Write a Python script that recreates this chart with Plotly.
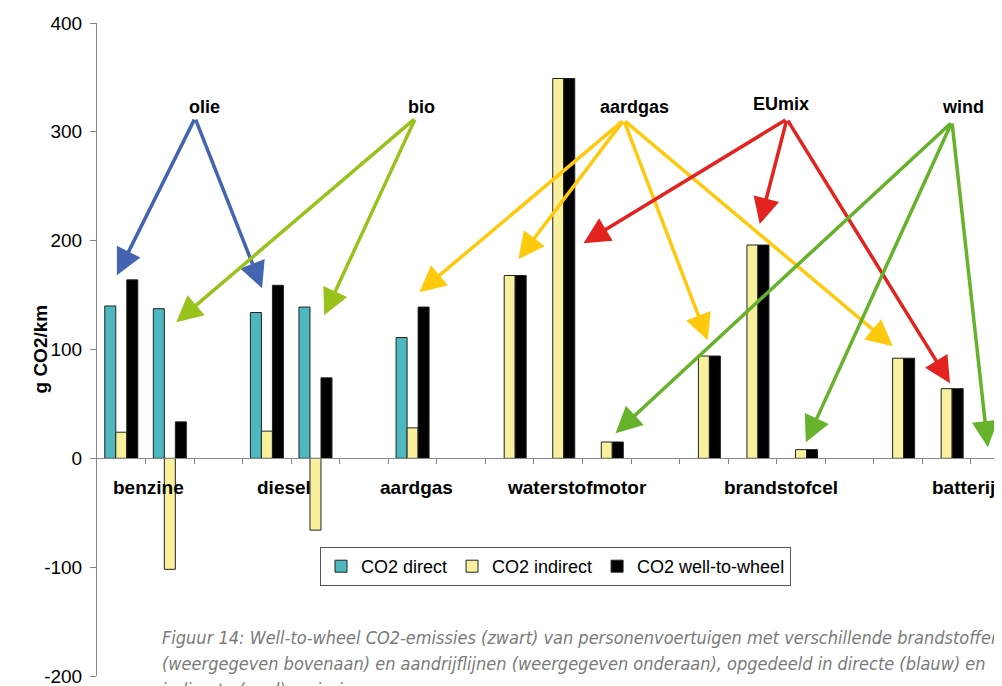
import plotly.graph_objects as go

# ---- data -------------------------------------------------------------
# 19 bar slots along the x axis (numeric positions 0..18)
slots = list(range(19))
co2_direct = [140, 137.5, None, 134, 139, None, 111, None,
              None, None, None, None, None, None, None, None, None, None, None]
co2_indirect = [24, -102, None, 25, -66, None, 28, None,
                168, 349, 15, None, 94, 196, 8, None, 92, 64, None]
co2_wtw = [164, 33.5, None, 159, 74, None, 139, None,
           168, 349, 15, None, 94, 196, 8, None, 92, 64, None]

series_names = ["CO2 direct", "CO2 indirect", "CO2 well-to-wheel"]
series_colors = ["#4DB8C0", "#F8F09C", "#000000"]

# drive-train labels below the axis
group_labels = ["benzine", "diesel", "aardgas", "waterstofmotor", "brandstofcel", "batterij"]
group_label_x = [0.57, 3.36, 6.08, 9.38, 13.58, 17.34]
group_label_y = -27

# energy-source labels (top) and their arrows
source_labels = ["olie", "bio", "aardgas", "EUmix", "wind"]
source_label_x = [1.71, 6.18, 10.57, 13.58, 17.34]
source_label_y = [323, 323, 323, 325.5, 323]
source_colors = ["#4364B0", "#99C21C", "#FFC90E", "#E3231F", "#66B22A"]
arrow_origin = [(1.52, 312.6), (6.06, 312.6), (10.35, 310.8), (13.71, 311.7), (17.11, 309)]
arrow_tips = [
    [(-0.09, 168.3), (2.90, 156.3)],
    [(1.13, 125), (4.18, 131.5)],
    [(6.14, 152.6), (8.18, 183), (12.08, 108.5), (15.89, 103)],
    [(9.52, 197.7), (13.15, 215.2), (17.07, 69)],
    [(10.18, 23), (14.10, 14.7), (17.85, 10.1)],
]

y_ticks = [-200, -100, 0, 100, 200, 300, 400]
y_tick_text = ["-200", "-100", "0", "100", "200", "300", "400"]
y_title = "g CO2/km"
caption_lines = [
    "Figuur 14: Well-to-wheel CO2-emissies (zwart) van personenvoertuigen met verschillende brandstoffen",
    "(weergegeven bovenaan) en aandrijflijnen (weergegeven onderaan), opgedeeld in directe (blauw) en",
    "indirecte (geel) emissies.",
]

# ---- figure -----------------------------------------------------------
# page body has an 8px margin; plot area on the page: x 97..1002, y 23..676
FONT = "Liberation Sans, Arial, sans-serif"
PLOT_W, PLOT_H = 905, 653
fig = go.Figure()
for name, vals, col in zip(series_names, [co2_direct, co2_indirect, co2_wtw], series_colors):
    fig.add_trace(go.Bar(x=slots, y=vals, name=name,
                         marker=dict(color=col, line=dict(color="#222222", width=1))))

annotations = []
for lab, gx in zip(group_labels, group_label_x):
    annotations.append(dict(x=gx, y=group_label_y, xref="x", yref="y", text="<b>%s</b>" % lab,
                            showarrow=False, font=dict(family=FONT, size=19, color="#000")))
for lab, sx, sy, col, (ox, oy), tips in zip(source_labels, source_label_x, source_label_y,
                                             source_colors, arrow_origin, arrow_tips):
    annotations.append(dict(x=sx, y=sy, xref="x", yref="y", text="<b>%s</b>" % lab,
                            showarrow=False, font=dict(family=FONT, size=18, color="#000")))
    for tx, ty in tips:
        annotations.append(dict(x=tx, y=ty, xref="x", yref="y", ax=ox, ay=oy,
                                axref="x", ayref="y", text="", showarrow=True,
                                arrowhead=2, arrowsize=1.5, arrowwidth=3.5,
                                arrowcolor=col, standoff=0))
# y-axis title
annotations.append(dict(x=(40 - 97) / PLOT_W, y=0.5, xref="paper", yref="paper",
                        text="<b>%s</b>" % y_title, textangle=-90, showarrow=False,
                        xanchor="center", yanchor="middle",
                        font=dict(family=FONT, size=19, color="#000")))
caption_y = [637, 663, 689]
for line, cy in zip(caption_lines, caption_y):
    annotations.append(dict(x=(160 - 97) / PLOT_W, y=(676 - cy) / PLOT_H, xref="paper", yref="paper",
                            xanchor="left", yanchor="middle", text=line, showarrow=False,
                            font=dict(family="Liberation Sans Narrow, DejaVu Sans Condensed, sans-serif",
                                      size=18, color="#7A7A7A", style="italic")))

fig.update_layout(
    width=994, height=678,
    margin=dict(l=89, r=0, t=15, b=10),
    paper_bgcolor="white", plot_bgcolor="white",
    barmode="group", bargap=0.32, bargroupgap=0,
    font=dict(family=FONT, size=19, color="#000"),
    showlegend=True,
    legend=dict(orientation="h", x=(320 - 97) / PLOT_W, y=(676 - 547) / PLOT_H,
                xanchor="left", yanchor="top", bgcolor="white",
                bordercolor="#555555", borderwidth=1, tracegroupgap=0,
                font=dict(family=FONT, size=18, color="#000"), itemwidth=30),
    annotations=annotations,
)
fig.update_xaxes(range=[-0.5, 18.14], anchor="free", position=1/3,
                 showline=True, linecolor="#868686", linewidth=1,
                 ticks="outside", ticklen=5, tickcolor="#868686",
                 tickvals=[k + 0.5 for k in range(18)], showticklabels=False,
                 showgrid=False, zeroline=False)
fig.update_yaxes(range=[-200, 400], showline=True, linecolor="#868686", linewidth=1,
                 ticks="outside", ticklen=6, tickcolor="#868686",
                 tickvals=y_ticks, ticktext=y_tick_text, ticklabelstandoff=4,
                 ticklabeloverflow="allow",
                 tickfont=dict(family=FONT, size=19, color="#000"),
                 showgrid=False, zeroline=False)

fig.write_html("out.html")
